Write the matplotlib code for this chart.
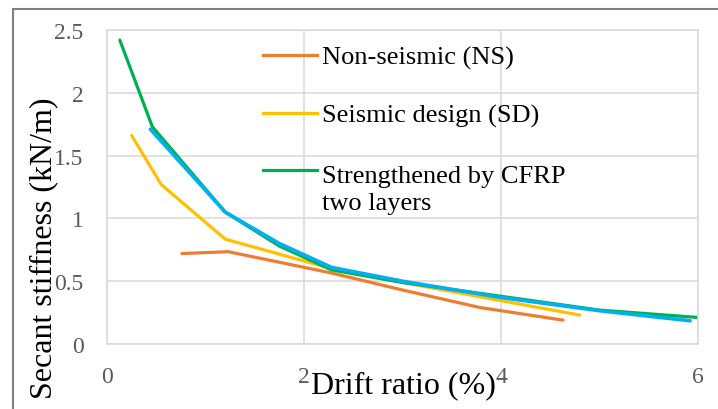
import matplotlib
matplotlib.use("Agg")
import matplotlib.pyplot as plt
from matplotlib.lines import Line2D
from matplotlib.patches import Rectangle

plt.rcParams['font.family'] = ['Liberation Serif', 'DejaVu Serif']

# secant stiffness vs drift ratio
ns_drift = [0.76, 1.23, 2.28, 3.0, 3.79, 4.63]
ns_stiff = [0.72, 0.735, 0.565, 0.43, 0.29, 0.19]

sd_drift = [0.25, 0.55, 1.2, 2.28, 3.0, 4.0, 4.8]
sd_stiff = [1.66, 1.27, 0.835, 0.60, 0.49, 0.345, 0.23]

cfrp_drift = [0.13, 0.46, 1.2, 1.75, 2.28, 3.0, 4.0, 5.0, 6.02]
cfrp_stiff = [2.42, 1.73, 1.05, 0.78, 0.59, 0.49, 0.38, 0.27, 0.21]

extra_drift = [0.44, 1.2, 1.75, 2.28, 3.0, 4.0, 5.0, 5.92]
extra_stiff = [1.71, 1.05, 0.80, 0.61, 0.50, 0.37, 0.265, 0.185]

labels = ['Non-seismic (NS)', 'Seismic design (SD)', 'Strengthened by CFRP\ntwo layers']
colors = ['#ED7D31', '#FFC000', '#00B050']

fig = plt.figure(figsize=(7.18, 4.10), dpi=100)
ax = fig.add_axes([107/718, 65/410, 591/718, 314/410])

ax.plot(ns_drift, ns_stiff, color=colors[0], lw=2.3, solid_capstyle='round')
ax.plot(sd_drift, sd_stiff, color=colors[1], lw=2.3, solid_capstyle='round')
ax.plot(cfrp_drift, cfrp_stiff, color=colors[2], lw=2.3, solid_capstyle='round')
ax.plot(extra_drift, extra_stiff, color='#00B0F0', lw=2.6, solid_capstyle='round')

ax.set_xlim(0, 6)
ax.set_ylim(0, 2.5)
ax.set_xticks([0, 2, 4, 6])
ax.set_xticklabels(['0', '2', '4', '6'])
ax.set_yticks([0, 0.5, 1, 1.5, 2, 2.5])
ax.set_yticklabels(['0', '0.5', '1', '1.5', '2', '2.5'])
ax.tick_params(axis='both', length=0, labelsize=17, labelcolor='#595959')
ax.tick_params(axis='y', pad=17)
ax.tick_params(axis='x', pad=16)
ax.grid(True, color='#D9D9D9', lw=1.1)
ax.set_axisbelow(True)
for s in ax.spines.values():
    s.set_color('#D9D9D9')
    s.set_linewidth(1.1)

fig.text(44/718, 1 - 248/410, 'Secant stiffness (kN/m)', rotation=90,
         ha='center', va='center', fontsize=23)
fig.text(403/718, 1 - 386/410, 'Drift ratio (%)', ha='center', va='center', fontsize=23)

# legend drawn by hand so the handle sits on the first text line
handle_y = [56, 114, 171]
text_base = [65, 123, 210]
for hy, ty, lab, c in zip(handle_y, text_base, labels, colors):
    fig.add_artist(Line2D([263/718, 317/718], [1 - hy/410, 1 - hy/410], color=c,
                          lw=2.3, transform=fig.transFigure))
    fig.text(322/718, 1 - ty/410, lab, ha='left', va='baseline', fontsize=19,
             linespacing=1.32, transform=fig.transFigure)

fig.add_artist(Rectangle((13/718, -0.05), 1.0, 1.05 - 9.5/410, fill=False,
                         edgecolor='#808080', lw=1.5, transform=fig.transFigure))

fig.savefig('out.png', dpi=100)
